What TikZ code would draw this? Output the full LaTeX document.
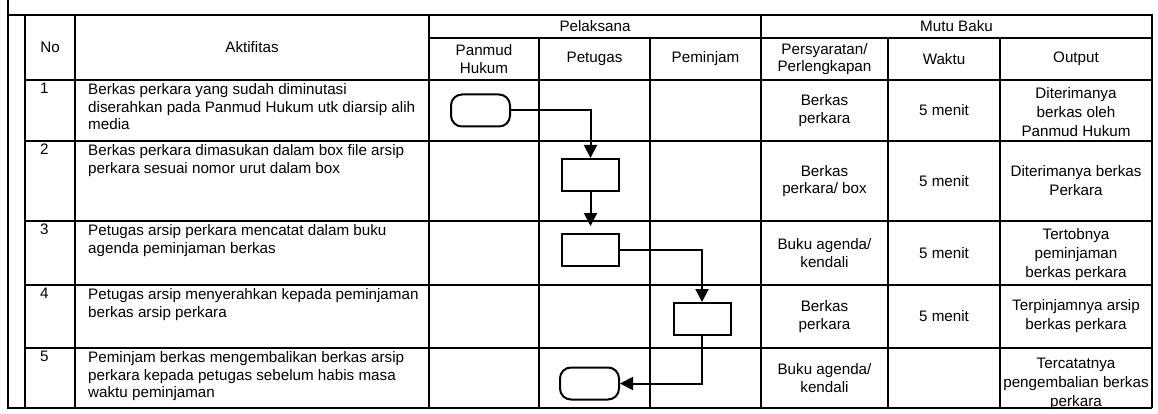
\documentclass[tikz,border=0pt]{standalone}
\usepackage{fontspec}
\setmainfont{Liberation Sans}
\usetikzlibrary{arrows.meta}

\begin{document}
\begin{tikzpicture}[x=1pt, y=-1pt, font=\fontsize{15.2}{17.8}\selectfont, >={Triangle[length=13pt,width=13pt]},
    grid/.style={line width=2pt},
    head/.style={align=center, inner sep=0pt},
    rowno/.style={anchor=north west, inner sep=3pt},
    activity/.style={anchor=north west, align=left, inner sep=3pt},
    cell/.style={align=center, inner sep=0pt},
    outcell/.style={cell, font=\fontsize{15.2}{19}\selectfont},
    terminal/.style={draw, line width=2pt, rounded corners=11pt, minimum width=59pt, minimum height=32pt},
    process/.style={draw, line width=2pt, minimum width=57pt, minimum height=32pt},
    flow/.style={line width=2pt, ->}]
  \useasboundingbox (0,0) rectangle (1158,414);

  % table lines
  \draw[grid] (8,0) -- (8,408) -- (1152,408);
  \draw[grid] (8,15) -- (1152,15) -- (1152,408);
  \draw[grid] (429,38) -- (1152,38);
  \draw[grid] (25,80) -- (1152,80);
  \draw[grid] (25,141) -- (1152,141);
  \draw[grid] (25,221) -- (1152,221);
  \draw[grid] (25,285) -- (1152,285);
  \draw[grid] (25,348) -- (1152,348);
  \draw[grid] (25,15) -- (25,408);
  \draw[grid] (75,15) -- (75,408);
  \draw[grid] (429,15) -- (429,408);
  \draw[grid] (539,38) -- (539,408);
  \draw[grid] (650,38) -- (650,408);
  \draw[grid] (761,15) -- (761,408);
  \draw[grid] (888,38) -- (888,408);
  \draw[grid] (1000,38) -- (1000,408);

  % header
  \node[head] (hno)    at (50,47.5)    {No};
  \node[head] (hakt)   at (252,47.5)   {Aktifitas};
  \node[head] (hpel)   at (595,26.5)   {Pelaksana};
  \node[head] (hmutu)  at (956.5,26.5) {Mutu Baku};
  \node[head] (hpan)   at (484,59)     {Panmud\\Hukum};
  \node[head] (hpet)   at (594.5,59)   {Petugas};
  \node[head] (hpem)   at (705.5,59)   {Peminjam};
  \node[head] (hsyarat) at (824.5,59)  {Persyaratan/\\Perlengkapan};
  \node[head] (hwaktu) at (944,59)     {Waktu};
  \node[head] (hout)   at (1076,59)    {Output};

  % rows: number and activity
  \node[rowno] (no1) at (37,80)  {1};
  \node[rowno] (no2) at (37,141) {2};
  \node[rowno] (no3) at (37,221) {3};
  \node[rowno] (no4) at (37,285) {4};
  \node[rowno] (no5) at (37,348) {5};
  \node[activity] (akt1) at (85,80)  {Berkas perkara yang sudah diminutasi\\diserahkan pada Panmud Hukum utk diarsip alih\\media};
  \node[activity] (akt2) at (85,141) {Berkas perkara dimasukan dalam box file arsip\\perkara sesuai nomor urut dalam box};
  \node[activity] (akt3) at (85,221) {Petugas arsip perkara mencatat dalam buku\\agenda peminjaman berkas};
  \node[activity] (akt4) at (85,285) {Petugas arsip menyerahkan kepada peminjaman\\berkas arsip perkara};
  \node[activity] (akt5) at (85,348) {Peminjam berkas mengembalikan berkas arsip\\perkara kepada petugas sebelum habis masa\\waktu peminjaman};

  % mutu baku
  \node[cell] (syarat1) at (824.5,110.5) {Berkas\\perkara};
  \node[cell] (syarat2) at (824.5,181)   {Berkas\\perkara/ box};
  \node[cell] (syarat3) at (824.5,253)   {Buku agenda/\\kendali};
  \node[cell] (syarat4) at (824.5,316.5) {Berkas\\perkara};
  \node[cell] (syarat5) at (824.5,378)   {Buku agenda/\\kendali};
  \node[cell] (waktu1) at (944,110.5) {5 menit};
  \node[cell] (waktu2) at (944,181)   {5 menit};
  \node[cell] (waktu3) at (944,253)   {5 menit};
  \node[cell] (waktu4) at (944,316.5) {5 menit};
  \node[outcell] (out1) at (1076,112) {Diterimanya\\berkas oleh\\Panmud Hukum};
  \node[outcell] (out2) at (1076,181) {Diterimanya berkas\\Perkara};
  \node[outcell] (out3) at (1076,255) {Tertobnya\\peminjaman\\berkas perkara};
  \node[outcell] (out4) at (1076,316.5) {Terpinjamnya arsip\\berkas perkara};
  \node[outcell] (out5) at (1076,384) {Tercatatnya\\pengembalian berkas\\perkara};

  % flow
  \node[terminal] (terima)  at (480.5,110.5) {};
  \node[process]  (masuk)   at (590.5,175)   {};
  \node[process]  (catat)   at (590.5,250)   {};
  \node[process]  (serah)   at (702,319)     {};
  \node[terminal] (kembali) at (589.5,383.5) {};
  \draw[flow] (terima) -| (masuk);
  \draw[flow, shorten >=7pt] (masuk) -- (catat);
  \draw[flow] (catat) -| (serah);
  \draw[flow] (serah) |- (kembali);
\end{tikzpicture}
\end{document}
